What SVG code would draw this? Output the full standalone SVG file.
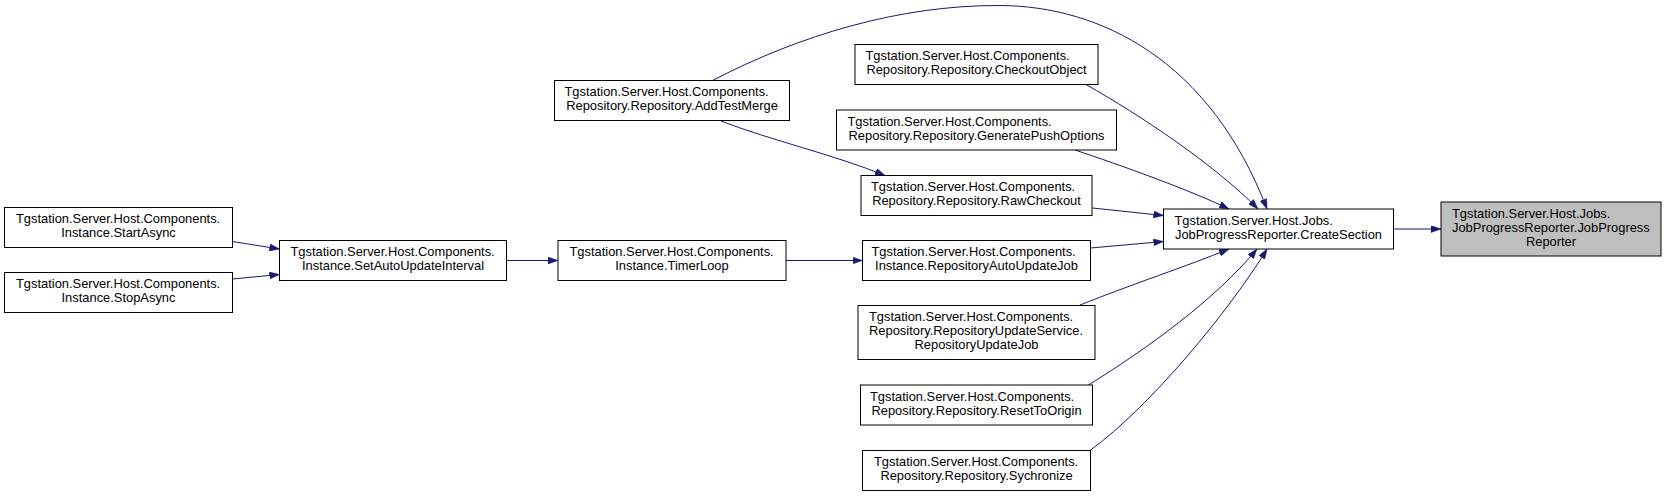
<svg xmlns="http://www.w3.org/2000/svg" width="1667" height="496" viewBox="0 0 1667 496">
<style>
.box{fill:#ffffff;stroke:#000000;stroke-width:1}
.hl{fill:#bfbfbf;stroke:#000000;stroke-width:1}
text{font-family:"Liberation Sans",Arial,Helvetica,sans-serif;font-size:12.9px;fill:#000000}
.m{text-anchor:middle}
.edge{fill:none;stroke:#191970;stroke-width:1;marker-end:url(#arr)}
</style>
<defs>
<marker id="arr" viewBox="0 0 10 7" refX="10" refY="3.5" markerWidth="10" markerHeight="7" markerUnits="userSpaceOnUse" orient="auto">
<path d="M0,0 L10,3.5 L0,7 z" fill="#191970" stroke="#191970" stroke-width="0.5"/>
</marker>
</defs>
<rect width="1667" height="496" fill="#ffffff"/>
<g id="connectors">
<path class="edge" d="M232.5,241.5 L279.5,249"/>
<path class="edge" d="M232.5,279 L279.5,274.5"/>
<path class="edge" d="M507,260.5 L558,260.5"/>
<path class="edge" d="M786,260.5 L862.5,260.5"/>
<path class="edge" d="M721,121 C770,140 835,155 885,175.5"/>
<path class="edge" d="M712.5,80.5 C800,35 900,5 1000,5.5 C1100,6 1210,60 1267,209"/>
<path class="edge" d="M1086,84.5 C1140,115 1215,165 1258,209"/>
<path class="edge" d="M1075,150 C1120,165 1190,190 1229,209"/>
<path class="edge" d="M1092.5,208 L1163.5,215.5"/>
<path class="edge" d="M1090.5,248 L1163.5,241.5"/>
<path class="edge" d="M1080,305 C1130,285 1190,265 1229,249"/>
<path class="edge" d="M1088.5,385 C1145,350 1215,300 1257,249"/>
<path class="edge" d="M1090,450.5 C1150,407 1230,310 1267,249"/>
<path class="edge" d="M1393.5,229 L1441,229"/>
</g>
<g id="node-jpr">
<rect class="hl" x="1441" y="202" width="220" height="54"/>
<text x="1452" y="217.5">Tgstation.Server.Host.Jobs.</text>
<text x="1452" y="231.5">JobProgressReporter.JobProgress</text>
<text class="m" x="1551" y="245.5">Reporter</text>
</g>
<g id="node-createsection">
<rect class="box" x="1163.5" y="209" width="230" height="40"/>
<text x="1174.5" y="224.5">Tgstation.Server.Host.Jobs.</text>
<text class="m" x="1278.5" y="238.5">JobProgressReporter.CreateSection</text>
</g>
<g id="node-checkoutobject">
<rect class="box" x="855" y="44.5" width="243" height="40"/>
<text x="865.5" y="60">Tgstation.Server.Host.Components.</text>
<text class="m" x="976.5" y="74">Repository.Repository.CheckoutObject</text>
</g>
<g id="node-generatepushoptions">
<rect class="box" x="836.5" y="110" width="280" height="40"/>
<text x="847.5" y="125.5">Tgstation.Server.Host.Components.</text>
<text class="m" x="976.5" y="139.5">Repository.Repository.GeneratePushOptions</text>
</g>
<g id="node-rawcheckout">
<rect class="box" x="861" y="175.5" width="231" height="40"/>
<text x="871" y="191">Tgstation.Server.Host.Components.</text>
<text class="m" x="976.5" y="205">Repository.Repository.RawCheckout</text>
</g>
<g id="node-repositoryautoupdatejob">
<rect class="box" x="862.5" y="240.5" width="228" height="40"/>
<text x="871.5" y="256">Tgstation.Server.Host.Components.</text>
<text class="m" x="976.5" y="270">Instance.RepositoryAutoUpdateJob</text>
</g>
<g id="node-repositoryupdatejob">
<rect class="box" x="858" y="305.5" width="237" height="54"/>
<text x="869" y="321">Tgstation.Server.Host.Components.</text>
<text x="869" y="335">Repository.RepositoryUpdateService.</text>
<text class="m" x="976.5" y="349">RepositoryUpdateJob</text>
</g>
<g id="node-resettoorigin">
<rect class="box" x="860.5" y="385" width="232" height="40"/>
<text x="870" y="400.5">Tgstation.Server.Host.Components.</text>
<text class="m" x="976.5" y="414.5">Repository.Repository.ResetToOrigin</text>
</g>
<g id="node-sychronize">
<rect class="box" x="862.5" y="450.5" width="228" height="40"/>
<text x="874" y="466">Tgstation.Server.Host.Components.</text>
<text class="m" x="976.5" y="480">Repository.Repository.Sychronize</text>
</g>
<g id="node-addtestmerge">
<rect class="box" x="554.5" y="80.5" width="235" height="40"/>
<text x="564.5" y="96">Tgstation.Server.Host.Components.</text>
<text class="m" x="672" y="110">Repository.Repository.AddTestMerge</text>
</g>
<g id="node-timerloop">
<rect class="box" x="558" y="240.5" width="228" height="40"/>
<text x="569.5" y="256">Tgstation.Server.Host.Components.</text>
<text class="m" x="672" y="270">Instance.TimerLoop</text>
</g>
<g id="node-setautoupdateinterval">
<rect class="box" x="279.5" y="240.5" width="227" height="40"/>
<text x="290.5" y="256">Tgstation.Server.Host.Components.</text>
<text class="m" x="393" y="270">Instance.SetAutoUpdateInterval</text>
</g>
<g id="node-startasync">
<rect class="box" x="4.5" y="207.5" width="228" height="40"/>
<text x="16" y="223">Tgstation.Server.Host.Components.</text>
<text class="m" x="118.5" y="237">Instance.StartAsync</text>
</g>
<g id="node-stopasync">
<rect class="box" x="4.5" y="272.5" width="228" height="40"/>
<text x="16" y="288">Tgstation.Server.Host.Components.</text>
<text class="m" x="118.5" y="302">Instance.StopAsync</text>
</g>
</svg>
